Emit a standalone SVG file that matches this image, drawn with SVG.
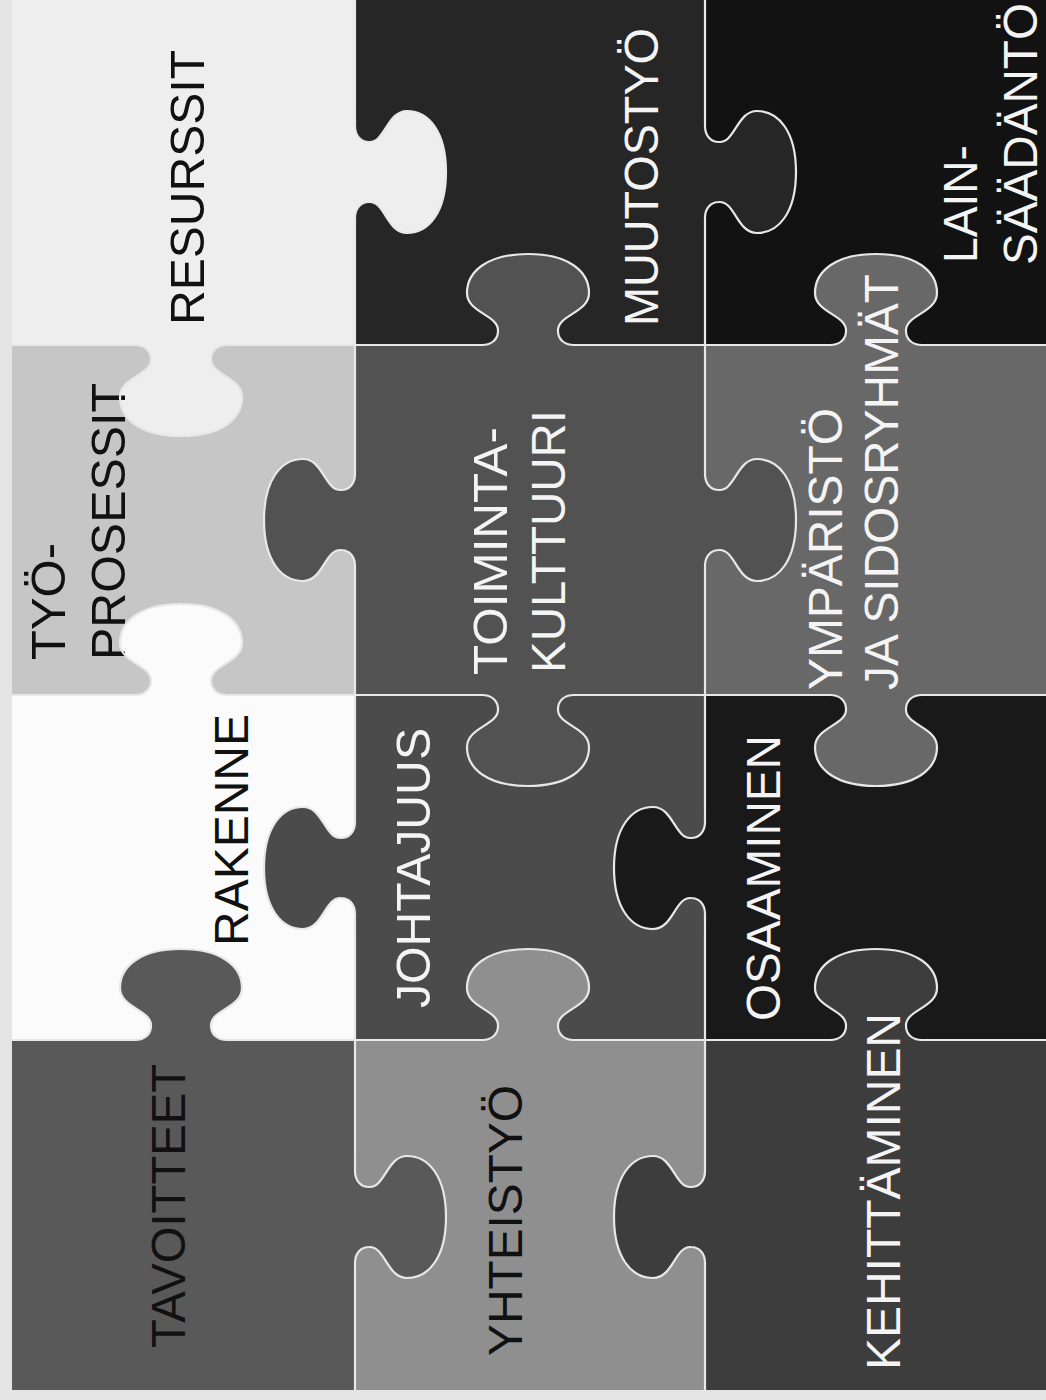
<svg xmlns="http://www.w3.org/2000/svg" width="1046" height="1400" viewBox="0 0 1046 1400">
<style>
.piece{fill-rule:evenodd;stroke:none}
.lbl{font-family:"Liberation Sans",Arial,Helvetica,sans-serif;font-size:48px}
.dk{fill:#111111}
.lt{fill:#f4f4f4}
.seam{fill:none;stroke:#e8e8e8;stroke-width:2.2;stroke-linejoin:round}
</style>
<rect x="0" y="0" width="1046" height="1400" fill="#e4e4e4"/>

<g id="resurssit">
<path class="piece" fill="#eeeeee" d="M12,0 H355 V345 H12 Z M135,345 c 10,0 16,6 16,14 c 1,16 -31,18 -31,38 c 0,22 21,39 61,39 c 40,0 61,-17 61,-39 c 0,-20 -32,-22 -31,-38 c 0,-8 6,-14 16,-14 z M355,126 c 0,10 6,16 14,16 c 16,1 18,-31 38,-31 c 22,0 39,21 39,61 c 0,40 -17,61 -39,61 c -20,0 -22,-32 -38,-31 c -8,0 -14,6 -14,16 z"/>
<text class="lbl dk" transform="translate(204,325) rotate(-90)" textLength="275" lengthAdjust="spacingAndGlyphs">RESURSSIT</text>
</g>

<g id="muutostyo">
<path class="piece" fill="#262626" d="M355,0 H705 V345 H355 Z M355,126 c 0,10 6,16 14,16 c 16,1 18,-31 38,-31 c 22,0 39,21 39,61 c 0,40 -17,61 -39,61 c -20,0 -22,-32 -38,-31 c -8,0 -14,6 -14,16 z M705,126 c 0,10 6,16 14,16 c 16,1 18,-31 38,-31 c 22,0 39,21 39,61 c 0,40 -17,61 -39,61 c -20,0 -22,-32 -38,-31 c -8,0 -14,6 -14,16 z M482,345 c 10,0 16,-6 16,-14 c 1,-16 -31,-18 -31,-38 c 0,-22 21,-39 61,-39 c 40,0 61,17 61,39 c 0,20 -32,22 -31,38 c 0,8 6,14 16,14 z"/>
<text class="lbl lt" transform="translate(658,326) rotate(-90)" textLength="298" lengthAdjust="spacingAndGlyphs">MUUTOSTYÖ</text>
</g>

<g id="lainsaadanto">
<path class="piece" fill="#121212" d="M705,0 H1046 V345 H705 Z M705,126 c 0,10 6,16 14,16 c 16,1 18,-31 38,-31 c 22,0 39,21 39,61 c 0,40 -17,61 -39,61 c -20,0 -22,-32 -38,-31 c -8,0 -14,6 -14,16 z M830,345 c 10,0 16,-6 16,-14 c 1,-16 -31,-18 -31,-38 c 0,-22 21,-39 61,-39 c 40,0 61,17 61,39 c 0,20 -32,22 -31,38 c 0,8 6,14 16,14 z"/>
<text class="lbl lt" transform="translate(977,263) rotate(-90)" textLength="118" lengthAdjust="spacingAndGlyphs">LAIN-</text>
<text class="lbl lt" transform="translate(1037,265) rotate(-90)" textLength="262" lengthAdjust="spacingAndGlyphs">SÄÄDÄNTÖ</text>
</g>

<g id="rakenne">
<path class="piece" fill="#fbfbfb" d="M12,695 H355 V1040 H12 Z M135,695 c 10,0 16,-6 16,-14 c 1,-16 -31,-18 -31,-38 c 0,-22 21,-39 61,-39 c 40,0 61,17 61,39 c 0,20 -32,22 -31,38 c 0,8 6,14 16,14 z M355,822 c 0,10 -6,16 -14,16 c -16,1 -18,-31 -38,-31 c -22,0 -39,21 -39,61 c 0,40 17,61 39,61 c 20,0 22,-32 38,-31 c 8,0 14,6 14,16 z M135,1040 c 10,0 16,-6 16,-14 c 1,-16 -31,-18 -31,-38 c 0,-22 21,-39 61,-39 c 40,0 61,17 61,39 c 0,20 -32,22 -31,38 c 0,8 6,14 16,14 z"/>
<text class="lbl dk" transform="translate(248,946) rotate(-90)" textLength="232" lengthAdjust="spacingAndGlyphs">RAKENNE</text>
</g>

<g id="tyoprosessit">
<path class="piece" fill="#c6c6c6" d="M12,345 H355 V695 H12 Z M135,345 c 10,0 16,6 16,14 c 1,16 -31,18 -31,38 c 0,22 21,39 61,39 c 40,0 61,-17 61,-39 c 0,-20 -32,-22 -31,-38 c 0,-8 6,-14 16,-14 z M355,474 c 0,10 -6,16 -14,16 c -16,1 -18,-31 -38,-31 c -22,0 -39,21 -39,61 c 0,40 17,61 39,61 c 20,0 22,-32 38,-31 c 8,0 14,6 14,16 z M135,695 c 10,0 16,-6 16,-14 c 1,-16 -31,-18 -31,-38 c 0,-22 21,-39 61,-39 c 40,0 61,17 61,39 c 0,20 -32,22 -31,38 c 0,8 6,14 16,14 z"/>
<text class="lbl dk" transform="translate(65,660) rotate(-90)" textLength="117" lengthAdjust="spacingAndGlyphs">TYÖ-</text>
<text class="lbl dk" transform="translate(125,660) rotate(-90)" textLength="277" lengthAdjust="spacingAndGlyphs">PROSESSIT</text>
</g>

<g id="toimintakulttuuri">
<path class="piece" fill="#525252" d="M355,345 H705 V695 H355 Z M482,345 c 10,0 16,-6 16,-14 c 1,-16 -31,-18 -31,-38 c 0,-22 21,-39 61,-39 c 40,0 61,17 61,39 c 0,20 -32,22 -31,38 c 0,8 6,14 16,14 z M355,474 c 0,10 -6,16 -14,16 c -16,1 -18,-31 -38,-31 c -22,0 -39,21 -39,61 c 0,40 17,61 39,61 c 20,0 22,-32 38,-31 c 8,0 14,6 14,16 z M705,474 c 0,10 6,16 14,16 c 16,1 18,-31 38,-31 c 22,0 39,21 39,61 c 0,40 -17,61 -39,61 c -20,0 -22,-32 -38,-31 c -8,0 -14,6 -14,16 z M482,695 c 10,0 16,6 16,14 c 1,16 -31,18 -31,38 c 0,22 21,39 61,39 c 40,0 61,-17 61,-39 c 0,-20 -32,-22 -31,-38 c 0,-8 6,-14 16,-14 z"/>
<text class="lbl lt" transform="translate(507,675) rotate(-90)" textLength="248" lengthAdjust="spacingAndGlyphs">TOIMINTA-</text>
<text class="lbl lt" transform="translate(565,673) rotate(-90)" textLength="263" lengthAdjust="spacingAndGlyphs">KULTTUURI</text>
</g>

<g id="ymparisto">
<path class="piece" fill="#686868" d="M705,345 H1046 V695 H705 Z M830,345 c 10,0 16,-6 16,-14 c 1,-16 -31,-18 -31,-38 c 0,-22 21,-39 61,-39 c 40,0 61,17 61,39 c 0,20 -32,22 -31,38 c 0,8 6,14 16,14 z M705,474 c 0,10 6,16 14,16 c 16,1 18,-31 38,-31 c 22,0 39,21 39,61 c 0,40 -17,61 -39,61 c -20,0 -22,-32 -38,-31 c -8,0 -14,6 -14,16 z M830,695 c 10,0 16,6 16,14 c 1,16 -31,18 -31,38 c 0,22 21,39 61,39 c 40,0 61,-17 61,-39 c 0,-20 -32,-22 -31,-38 c 0,-8 6,-14 16,-14 z"/>
<text class="lbl lt" transform="translate(842,690) rotate(-90)" textLength="282" lengthAdjust="spacingAndGlyphs">YMPÄRISTÖ</text>
<text class="lbl lt" transform="translate(898,690) rotate(-90)" textLength="416" lengthAdjust="spacingAndGlyphs">JA SIDOSRYHMÄT</text>
</g>

<g id="johtajuus">
<path class="piece" fill="#4b4b4b" d="M355,695 H705 V1040 H355 Z M482,695 c 10,0 16,6 16,14 c 1,16 -31,18 -31,38 c 0,22 21,39 61,39 c 40,0 61,-17 61,-39 c 0,-20 -32,-22 -31,-38 c 0,-8 6,-14 16,-14 z M355,822 c 0,10 -6,16 -14,16 c -16,1 -18,-31 -38,-31 c -22,0 -39,21 -39,61 c 0,40 17,61 39,61 c 20,0 22,-32 38,-31 c 8,0 14,6 14,16 z M705,822 c 0,10 -6,16 -14,16 c -16,1 -18,-31 -38,-31 c -22,0 -39,21 -39,61 c 0,40 17,61 39,61 c 20,0 22,-32 38,-31 c 8,0 14,6 14,16 z M482,1040 c 10,0 16,-6 16,-14 c 1,-16 -31,-18 -31,-38 c 0,-22 21,-39 61,-39 c 40,0 61,17 61,39 c 0,20 -32,22 -31,38 c 0,8 6,14 16,14 z"/>
<text class="lbl lt" transform="translate(430,1008) rotate(-90)" textLength="280" lengthAdjust="spacingAndGlyphs">JOHTAJUUS</text>
</g>

<g id="osaaminen">
<path class="piece" fill="#191919" d="M705,695 H1046 V1040 H705 Z M830,695 c 10,0 16,6 16,14 c 1,16 -31,18 -31,38 c 0,22 21,39 61,39 c 40,0 61,-17 61,-39 c 0,-20 -32,-22 -31,-38 c 0,-8 6,-14 16,-14 z M705,822 c 0,10 -6,16 -14,16 c -16,1 -18,-31 -38,-31 c -22,0 -39,21 -39,61 c 0,40 17,61 39,61 c 20,0 22,-32 38,-31 c 8,0 14,6 14,16 z M830,1040 c 10,0 16,-6 16,-14 c 1,-16 -31,-18 -31,-38 c 0,-22 21,-39 61,-39 c 40,0 61,17 61,39 c 0,20 -32,22 -31,38 c 0,8 6,14 16,14 z"/>
<text class="lbl lt" transform="translate(780,1021) rotate(-90)" textLength="286" lengthAdjust="spacingAndGlyphs">OSAAMINEN</text>
</g>

<g id="tavoitteet">
<path class="piece" fill="#595959" d="M12,1040 H355 V1390 H12 Z M135,1040 c 10,0 16,-6 16,-14 c 1,-16 -31,-18 -31,-38 c 0,-22 21,-39 61,-39 c 40,0 61,17 61,39 c 0,20 -32,22 -31,38 c 0,8 6,14 16,14 z M355,1171 c 0,10 6,16 14,16 c 16,1 18,-31 38,-31 c 22,0 39,21 39,61 c 0,40 -17,61 -39,61 c -20,0 -22,-32 -38,-31 c -8,0 -14,6 -14,16 z"/>
<text class="lbl dk" transform="translate(185,1348) rotate(-90)" textLength="284" lengthAdjust="spacingAndGlyphs">TAVOITTEET</text>
</g>

<g id="yhteistyo">
<path class="piece" fill="#8f8f8f" d="M355,1040 H705 V1390 H355 Z M482,1040 c 10,0 16,-6 16,-14 c 1,-16 -31,-18 -31,-38 c 0,-22 21,-39 61,-39 c 40,0 61,17 61,39 c 0,20 -32,22 -31,38 c 0,8 6,14 16,14 z M355,1171 c 0,10 6,16 14,16 c 16,1 18,-31 38,-31 c 22,0 39,21 39,61 c 0,40 -17,61 -39,61 c -20,0 -22,-32 -38,-31 c -8,0 -14,6 -14,16 z M705,1171 c 0,10 -6,16 -14,16 c -16,1 -18,-31 -38,-31 c -22,0 -39,21 -39,61 c 0,40 17,61 39,61 c 20,0 22,-32 38,-31 c 8,0 14,6 14,16 z"/>
<text class="lbl dk" transform="translate(522,1356) rotate(-90)" textLength="271" lengthAdjust="spacingAndGlyphs">YHTEISTYÖ</text>
</g>

<g id="kehittaminen">
<path class="piece" fill="#3d3d3d" d="M705,1040 H1046 V1390 H705 Z M830,1040 c 10,0 16,-6 16,-14 c 1,-16 -31,-18 -31,-38 c 0,-22 21,-39 61,-39 c 40,0 61,17 61,39 c 0,20 -32,22 -31,38 c 0,8 6,14 16,14 z M705,1171 c 0,10 -6,16 -14,16 c -16,1 -18,-31 -38,-31 c -22,0 -39,21 -39,61 c 0,40 17,61 39,61 c 20,0 22,-32 38,-31 c 8,0 14,6 14,16 z"/>
<text class="lbl lt" transform="translate(900,1370) rotate(-90)" textLength="357" lengthAdjust="spacingAndGlyphs">KEHITTÄMINEN</text>
</g>

<g id="seams">
<path class="seam" d="M12,345 L135,345 c 10,0 16,6 16,14 c 1,16 -31,18 -31,38 c 0,22 21,39 61,39 c 40,0 61,-17 61,-39 c 0,-20 -32,-22 -31,-38 c 0,-8 6,-14 16,-14 L482,345 c 10,0 16,-6 16,-14 c 1,-16 -31,-18 -31,-38 c 0,-22 21,-39 61,-39 c 40,0 61,17 61,39 c 0,20 -32,22 -31,38 c 0,8 6,14 16,14 L830,345 c 10,0 16,-6 16,-14 c 1,-16 -31,-18 -31,-38 c 0,-22 21,-39 61,-39 c 40,0 61,17 61,39 c 0,20 -32,22 -31,38 c 0,8 6,14 16,14 L1046,345"/>
<path class="seam" d="M12,695 L135,695 c 10,0 16,-6 16,-14 c 1,-16 -31,-18 -31,-38 c 0,-22 21,-39 61,-39 c 40,0 61,17 61,39 c 0,20 -32,22 -31,38 c 0,8 6,14 16,14 L482,695 c 10,0 16,6 16,14 c 1,16 -31,18 -31,38 c 0,22 21,39 61,39 c 40,0 61,-17 61,-39 c 0,-20 -32,-22 -31,-38 c 0,-8 6,-14 16,-14 L830,695 c 10,0 16,6 16,14 c 1,16 -31,18 -31,38 c 0,22 21,39 61,39 c 40,0 61,-17 61,-39 c 0,-20 -32,-22 -31,-38 c 0,-8 6,-14 16,-14 L1046,695"/>
<path class="seam" d="M12,1040 L135,1040 c 10,0 16,-6 16,-14 c 1,-16 -31,-18 -31,-38 c 0,-22 21,-39 61,-39 c 40,0 61,17 61,39 c 0,20 -32,22 -31,38 c 0,8 6,14 16,14 L482,1040 c 10,0 16,-6 16,-14 c 1,-16 -31,-18 -31,-38 c 0,-22 21,-39 61,-39 c 40,0 61,17 61,39 c 0,20 -32,22 -31,38 c 0,8 6,14 16,14 L830,1040 c 10,0 16,-6 16,-14 c 1,-16 -31,-18 -31,-38 c 0,-22 21,-39 61,-39 c 40,0 61,17 61,39 c 0,20 -32,22 -31,38 c 0,8 6,14 16,14 L1046,1040"/>
<path class="seam" d="M355,0 L355,126 c 0,10 6,16 14,16 c 16,1 18,-31 38,-31 c 22,0 39,21 39,61 c 0,40 -17,61 -39,61 c -20,0 -22,-32 -38,-31 c -8,0 -14,6 -14,16 L355,474 c 0,10 -6,16 -14,16 c -16,1 -18,-31 -38,-31 c -22,0 -39,21 -39,61 c 0,40 17,61 39,61 c 20,0 22,-32 38,-31 c 8,0 14,6 14,16 L355,822 c 0,10 -6,16 -14,16 c -16,1 -18,-31 -38,-31 c -22,0 -39,21 -39,61 c 0,40 17,61 39,61 c 20,0 22,-32 38,-31 c 8,0 14,6 14,16 L355,1171 c 0,10 6,16 14,16 c 16,1 18,-31 38,-31 c 22,0 39,21 39,61 c 0,40 -17,61 -39,61 c -20,0 -22,-32 -38,-31 c -8,0 -14,6 -14,16 L355,1390"/>
<path class="seam" d="M705,0 L705,126 c 0,10 6,16 14,16 c 16,1 18,-31 38,-31 c 22,0 39,21 39,61 c 0,40 -17,61 -39,61 c -20,0 -22,-32 -38,-31 c -8,0 -14,6 -14,16 L705,474 c 0,10 6,16 14,16 c 16,1 18,-31 38,-31 c 22,0 39,21 39,61 c 0,40 -17,61 -39,61 c -20,0 -22,-32 -38,-31 c -8,0 -14,6 -14,16 L705,822 c 0,10 -6,16 -14,16 c -16,1 -18,-31 -38,-31 c -22,0 -39,21 -39,61 c 0,40 17,61 39,61 c 20,0 22,-32 38,-31 c 8,0 14,6 14,16 L705,1171 c 0,10 -6,16 -14,16 c -16,1 -18,-31 -38,-31 c -22,0 -39,21 -39,61 c 0,40 17,61 39,61 c 20,0 22,-32 38,-31 c 8,0 14,6 14,16 L705,1390"/>
</g>
</svg>
